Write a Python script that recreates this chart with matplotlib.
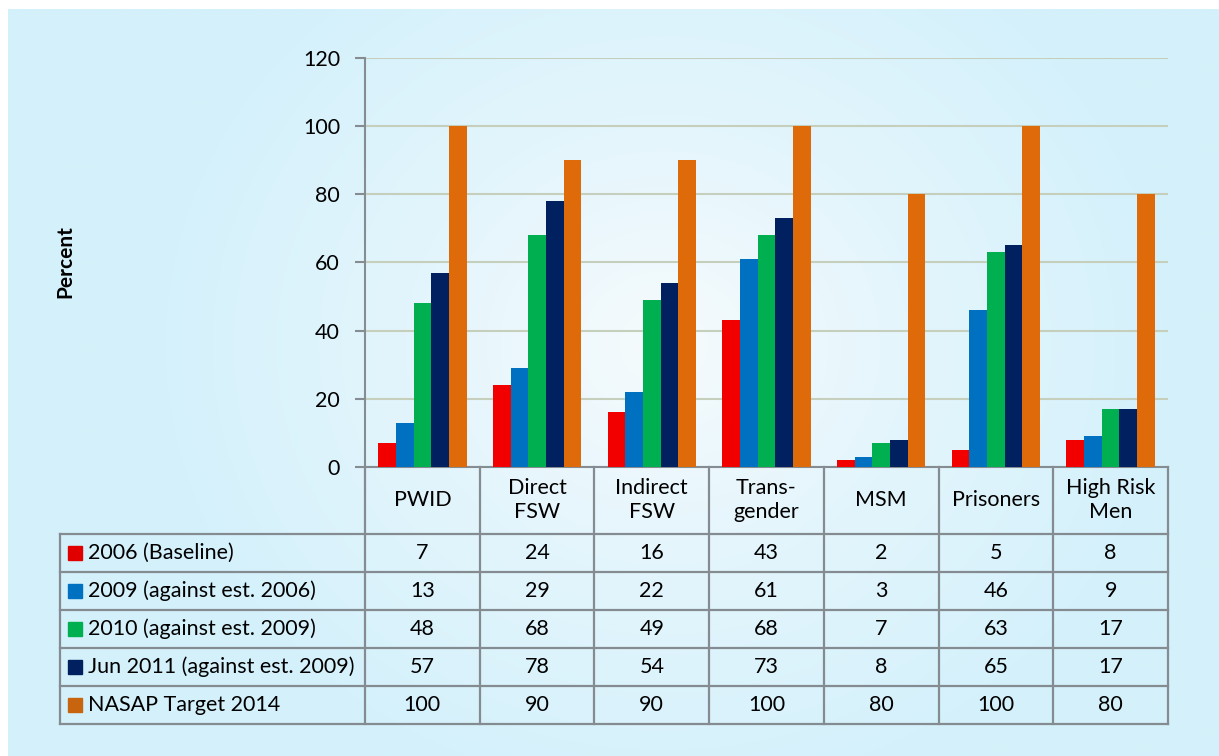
import numpy as np
import matplotlib
matplotlib.use("Agg")
import matplotlib.pyplot as plt
from matplotlib.colors import LinearSegmentedColormap

plt.rcParams['font.family'] = ['Lato', 'DejaVu Sans']

# data
groups = ['PWID', 'Direct\nFSW', 'Indirect\nFSW', 'Trans-\ngender', 'MSM', 'Prisoners', 'High Risk\nMen']
series = ['2006 (Baseline)', '2009 (against est. 2006)', '2010 (against est. 2009)',
          'Jun 2011 (against est. 2009)', 'NASAP Target 2014']
v2006 = [7, 24, 16, 43, 2, 5, 8]
v2009 = [13, 29, 22, 61, 3, 46, 9]
v2010 = [48, 68, 49, 68, 7, 63, 17]
v2011 = [57, 78, 54, 73, 8, 65, 17]
target = [100, 90, 90, 100, 80, 100, 80]
yticks = [0, 20, 40, 60, 80, 100, 120]

values = [v2006, v2009, v2010, v2011, target]
bar_colors = ['#f20000', '#0070c0', '#00b050', '#002060', '#de6a0a']
key_colors = ['#e00000', '#0070c0', '#00b050', '#002060', '#c8640e']

W, H = 1219, 756
fig = plt.figure(figsize=(W / 100, H / 100), dpi=100)
fig.patch.set_facecolor('white')

# background with radial gradient, pixel coordinates
bg = fig.add_axes([0, 0, 1, 1])
bg.set_xlim(0, W)
bg.set_ylim(H, 0)
bg.axis('off')
yy, xx = np.mgrid[0:H, 0:W]
d = np.sqrt(((xx - 660) / 1.0) ** 2 + ((yy - 340) / 0.9) ** 2)
d = np.clip(d / 520, 0, 1)
cmap = LinearSegmentedColormap.from_list('bgc', ['#f6fbfd', '#e3f5fc', '#d4f1fb'])
bg.imshow(d, cmap=cmap, extent=[8, W, H, 9], aspect='auto', zorder=0)

fs = 15.5

# plot area
left, right, top, bottom = 365, 1168, 58, 467
ax = fig.add_axes([left / W, 1 - bottom / H, (right - left) / W, (bottom - top) / H])
ax.patch.set_alpha(0)
x = np.arange(len(groups))
bw = 0.154
for i, (vals, c) in enumerate(zip(values, bar_colors)):
    ax.bar(x + (i - 2) * bw, vals, bw, color=c, zorder=3, linewidth=0)
ax.set_xlim(-0.5, len(groups) - 0.5)
ax.set_ylim(0, 120)
ax.set_yticks(yticks)
ax.set_xticks([])
ax.grid(axis='y', color='#c6cfbb', linewidth=1.5, zorder=1)
for s in ['top', 'right']:
    ax.spines[s].set_visible(False)
for s in ['left', 'bottom']:
    ax.spines[s].set_color('#858c92')
    ax.spines[s].set_linewidth(1.5)
ax.tick_params(axis='y', length=7, width=1.5, color='#858c92', pad=11, labelsize=fs)

bg.text(65, 262, 'Percent', rotation=90, ha='center', va='center',
        fontsize=15, fontweight='bold')

# data table underneath
col_w = (right - left) / len(groups)
head_bot = 534
row_h = 38
tab_left = 60
lc = '#848b91'
lw = 1.6
n_rows = len(series)
tab_bot = head_bot + n_rows * row_h
for j in range(len(groups) + 1):
    xc = left + j * col_w
    bg.plot([xc, xc], [bottom, tab_bot], color=lc, lw=lw, zorder=2)
bg.plot([tab_left, tab_left], [head_bot, tab_bot], color=lc, lw=lw, zorder=2)
for r in range(n_rows + 1):
    yr = head_bot + r * row_h
    bg.plot([tab_left, right], [yr, yr], color=lc, lw=lw, zorder=2)

for j, g in enumerate(groups):
    bg.text(left + (j + 0.5) * col_w, (bottom + head_bot) / 2, g, ha='center', va='center',
            fontsize=fs, linespacing=1.25)

for r, (name, vals, kc) in enumerate(zip(series, values, key_colors)):
    yc = head_bot + (r + 0.5) * row_h
    bg.add_patch(plt.Rectangle((68, yc - 7), 14, 14, color=kc, zorder=3))
    bg.text(88, yc, name, ha='left', va='center', fontsize=fs)
    for j, v in enumerate(vals):
        bg.text(left + (j + 0.5) * col_w, yc, str(v), ha='center', va='center', fontsize=fs)

fig.savefig('out.png', dpi=100)
